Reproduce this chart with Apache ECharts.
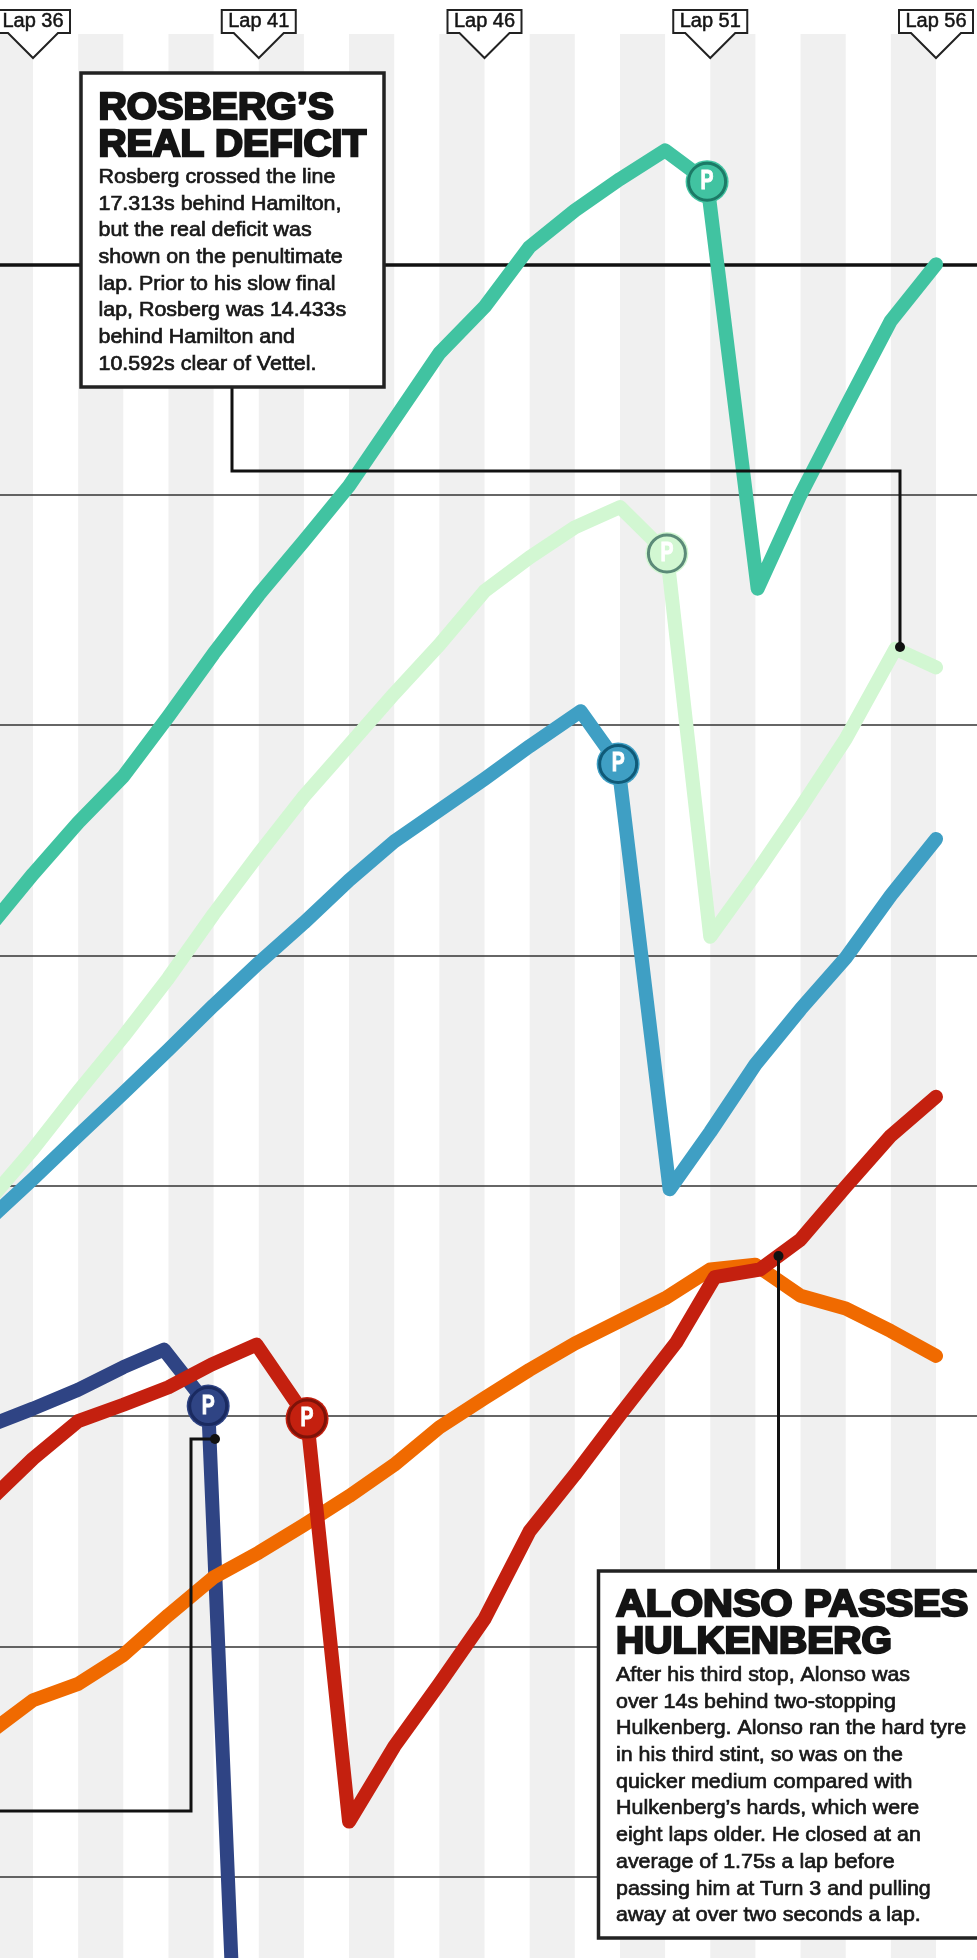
<!DOCTYPE html>
<html><head><meta charset="utf-8">
<style>html,body{margin:0;padding:0;background:#fff;width:977px;height:1958px;overflow:hidden}#c{width:977px;height:2200px}</style>
<script src="https://cdn.jsdelivr.net/npm/echarts@6/dist/echarts.min.js"></script>
</head><body><div id="c"></div>
<script>
const laps=[35,36,37,38,39,40,41,42,43,44,45,46,47,48,49,50,51,52,53,54,55,56];
const hamiltonLaps=[35,36,37,38,39,40,41,42,43,44,45,46,47,48,49,50,50.93,52.05,53,54,55,56];
const vettelLaps=[35,36,37,38,39,40,41,42,43,44,45,46,47,48.13,48.96,50.1,51,52,53,54,55,56];
const alonsoLaps=[35,36,37,38,39,39.95,40.95,42.07,43,44,45,46,47,48,49,50.25,51.1,52.1,53,54,55,56];
const rosbergLaps=[35,36,37,38,39,40,41,42,43,44,45,46,47,48,49,50.04,51,52,53,54,55.1,56];
const navyLaps=[35,36,37,38,38.9,39.88,41];
const hamilton=[-28.86,-26.47,-24.24,-22.23,-19.62,-16.90,-14.35,-12.01,-9.62,-6.74,-3.86,-1.85,0.76,2.34,3.70,4.95,3.59,-14.08,-10.0,-6.2,-2.45,0];
const rosberg=[-40.71,-38.42,-35.92,-33.53,-30.98,-28.21,-25.60,-23.10,-20.87,-18.64,-16.52,-14.19,-12.72,-11.42,-10.54,-12.55,-29.19,-26.47,-23.59,-20.60,-16.69,-17.50];
const vettel=[-41.52,-39.70,-37.83,-35.98,-34.10,-32.17,-30.33,-28.59,-26.74,-25.06,-23.70,-22.34,-20.92,-19.40,-21.69,-40.16,-37.67,-34.74,-32.34,-30.11,-27.40,-24.95];
const navy=[-50.44,-49.68,-48.86,-47.88,-47.12,-49.57,-102.0];
const alonso=[-53.75,-51.85,-50.22,-49.51,-48.75,-47.77,-46.90,-50.11,-67.61,-64.35,-61.63,-58.81,-55.0,-52.55,-49.95,-46.80,-43.97,-43.64,-42.34,-40.05,-37.83,-36.14];
const hulkenberg=[-63.81,-62.34,-61.63,-60.38,-58.64,-57.01,-55.93,-54.73,-53.48,-52.12,-50.49,-49.22,-47.99,-46.85,-45.87,-44.89,-43.64,-43.43,-44.78,-45.33,-46.31,-47.39];
const tagLaps=[36,41,46,51,56];
const bandLaps=[35,37,39,41,43,45,47,49,51,53,55];
const pitLaps=[50.93,50.04,48.96,39.88,42.07];
const pitGaps=[3.59,-12.55,-21.69,-49.57,-50.11];
const pitFill=['#41c3a1','#d2f7d2','#3f9fc4','#2f4484','#c4200f'];
const pitRing=['#1c7a66','#5b8a78','#0f5a78','#1a2a60','#7e1208'];
const SANS='"Liberation Sans", Arial, sans-serif';
const chart=echarts.init(document.getElementById('c'),null,{renderer:'canvas'});
function line(name,xs,vals,color,z){
 return {type:'line',name,data:vals.map((v,i)=>[xs[i],v]),showSymbol:false,symbol:'none',
  lineStyle:{color,width:14,cap:'round',join:'round'},z,silent:true,animation:false,clip:true};
}
function box(x,y,w,h,title,scales,body,tb,bb,bscx){
 const T=30, B=17.3;
 return [
  {type:'rect',shape:{x,y,width:w,height:h},style:{fill:'#fff',stroke:'#222',lineWidth:3.5},z:100},
  ...title.map((t,i)=>({type:'text',x:x+17.5,y:tb[i]-T,scaleX:scales[i],z:101,style:{text:t,fill:'#141414',stroke:'#141414',lineWidth:2.3,font:'bold 37px '+SANS}})),
  ...body.map((t,i)=>({type:'text',x:x+17.5,y:bb+i*26.7-B,scaleX:bscx,z:101,style:{text:t,fill:'#181818',stroke:'#181818',lineWidth:0.7,font:'21px '+SANS}}))
 ];
}
function conn(pts,dot){
 const a=[{type:'polyline',shape:{points:pts},style:{fill:null,stroke:'#111',lineWidth:3},z:50}];
 if(dot)a.push({type:'circle',shape:{cx:dot[0],cy:dot[1],r:5},style:{fill:'#111'},z:51});
 return a;
}
chart.setOption({
 animation:false,
 grid:{left:0,right:0,top:34,height:2073,containLabel:false},
 xAxis:{type:'value',min:35.269,max:56.908,z:1,
  axisLine:{show:true,onZero:true,lineStyle:{color:'#111',width:3.5}},
  axisTick:{show:false},axisLabel:{show:false},splitLine:{show:false}},
 yAxis:{type:'value',min:-80,max:10,interval:10,z:1,
  axisLine:{show:false},axisTick:{show:false},axisLabel:{show:false},
  splitLine:{show:true,showMaxLine:false,lineStyle:{color:'#333',width:1.5}}},
 series:[
  {type:'custom',z:0,silent:true,data:bandLaps.map(l=>[l]),encode:{x:0},clip:true,
   renderItem(p,api){const a=api.coord([api.value(0),10]),b=api.coord([api.value(0)+1,-80]);
    return {type:'rect',shape:{x:a[0],y:a[1],width:b[0]-a[0],height:b[1]-a[1]},style:{fill:'#f0f0f0'}};}},
  line('Navy',navyLaps,navy,'#2f4484',2),
  line('Hulkenberg',laps,hulkenberg,'#f06a00',3),
  line('Alonso',alonsoLaps,alonso,'#c4200f',4),
  line('Vettel',vettelLaps,vettel,'#3f9fc4',3),
  line('Rosberg',rosbergLaps,rosberg,'#d2f7d2',3),
  line('Hamilton',hamiltonLaps,hamilton,'#41c3a1',3),
  {type:'custom',z:7,silent:true,clip:false,data:pitLaps.map((l,i)=>[l,pitGaps[i],i]),encode:{x:0,y:1},
   renderItem(p,api){const c=api.coord([api.value(0),api.value(1)]),i=api.value(2);
    return {type:'group',children:[
     {type:'circle',shape:{cx:c[0],cy:c[1],r:21.5},style:{fill:pitFill[i]}},
     {type:'circle',shape:{cx:c[0],cy:c[1],r:18.5},style:{fill:pitFill[i],stroke:pitRing[i],lineWidth:3}},
     {type:'text',x:c[0],y:c[1],scaleX:0.72,style:{text:'P',align:'center',verticalAlign:'middle',fill:'#fff',stroke:'#fff',lineWidth:1,font:'bold 27px '+SANS}}
    ]};}},
  {type:'custom',z:8,silent:true,clip:false,data:tagLaps.map(l=>[l]),encode:{x:0},
   renderItem(p,api){const c=api.coord([api.value(0),10]);const x=c[0],t=c[1];
    return {type:'group',children:[
     {type:'polygon',shape:{points:[[x-37,t-24],[x+37,t-24],[x+37,t-1],[x+25,t-1],[x,t+24],[x-25,t-1],[x-37,t-1]]},
      style:{fill:'#fff',stroke:'#222',lineWidth:2}},
     {type:'text',x:x,y:t-13,style:{text:'Lap '+api.value(0),align:'center',verticalAlign:'middle',fill:'#141414',stroke:'#141414',lineWidth:0.5,font:'20px '+SANS}}
    ]};}}
 ],
 graphic:[
  ...conn([[232,387],[232,471],[900,471],[900,647]],[900,647]),
  ...conn([[778.5,1256],[778.5,1571]],[778.5,1256]),
  ...conn([[215,1439],[191,1439],[191,1811],[0,1811]],[215,1439]),
  ...box(81,73,303,314,["ROSBERG’S","REAL DEFICIT"],[1.06,1.05],
   ["Rosberg crossed the line","17.313s behind Hamilton,","but the real deficit was","shown on the penultimate","lap. Prior to his slow final","lap, Rosberg was 14.433s","behind Hamilton and","10.592s clear of Vettel."],[120,157],184,1.02),
  ...box(598.5,1571,400,367,["ALONSO PASSES","HULKENBERG"],[1.115,1.057],
   ["After his third stop, Alonso was","over 14s behind two-stopping","Hulkenberg. Alonso ran the hard tyre","in his third stint, so was on the","quicker medium compared with","Hulkenberg’s hards, which were","eight laps older. He closed at an","average of 1.75s a lap before","passing him at Turn 3 and pulling","away at over two seconds a lap."],[1617,1654],1682,1.02)
 ]
});
</script></body></html>
